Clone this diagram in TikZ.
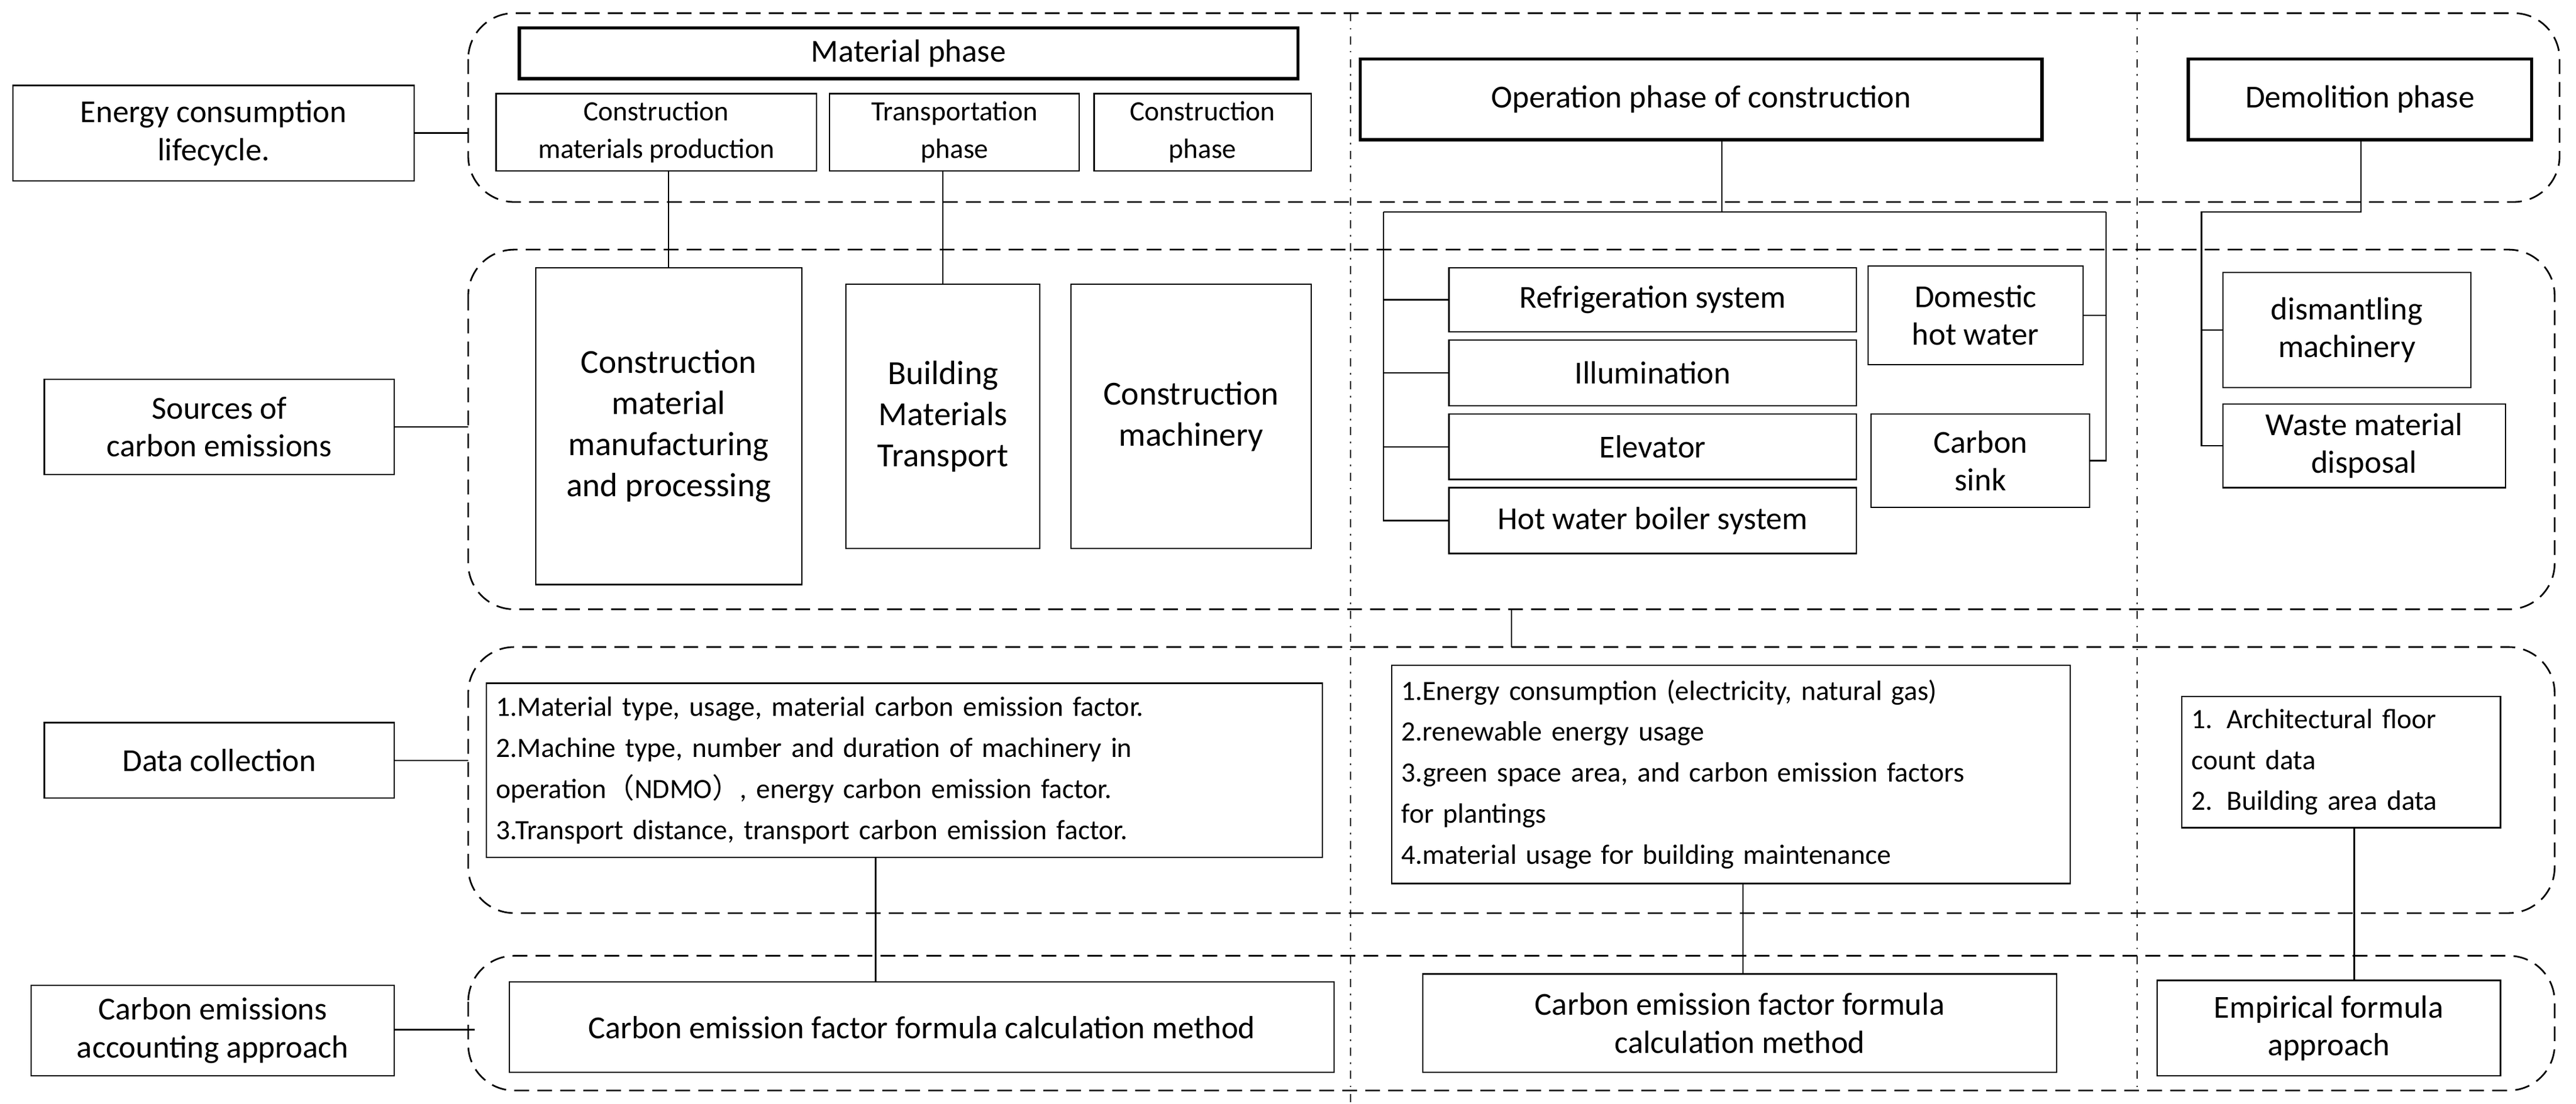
\documentclass[tikz,border=0pt]{standalone}
\usepackage{fontspec}
\setmainfont{Carlito}
\newfontfamily\cjk{Noto Sans CJK SC}
\begin{document}
\begin{tikzpicture}[x=1pt,y=-1pt,
 box/.style={draw,line width=0.8pt,align=center,inner sep=3pt,font=\fontsize{19.5}{23}\selectfont},
 thick box/.style={box,line width=2pt},
 small/.style={font=\fontsize{17}{23}\selectfont},
 big/.style={font=\fontsize{20.5}{25}\selectfont},
 txt/.style={draw,line width=0.8pt,align=left,inner sep=6pt,font=\fontsize{17}{25}\selectfont},
 grp/.style={draw,dash pattern=on 9pt off 5pt,line width=1pt,rounded corners=28pt},
 sep/.style={draw,dash pattern=on 5pt off 4pt on 1pt off 4pt,line width=0.7pt},
 ln/.style={draw,line width=0.8pt}]
\useasboundingbox (0,0) rectangle (1568,672);
% groups
\draw[grp] (285,8) rectangle (1558,123);
\draw[grp] (285,152) rectangle (1555,371);
\draw[grp] (285,394) rectangle (1555,556);
\draw[grp] (285,582) rectangle (1555,664);
\draw[sep] (822,8) -- (822,672);
\draw[sep] (1301,8) -- (1301,664);
\coordinate (g1) at (285,81); \coordinate (g2) at (285,260);
\coordinate (g3) at (285,463); \coordinate (g4) at (289,627);
\coordinate (g2b) at (920,371); \coordinate (g3t) at (920,394);
% left labels
\node[box,minimum width=244,minimum height=58] (e1) at (130,81) {Energy consumption\\lifecycle.};
\node[box,minimum width=213,minimum height=58] (src) at (133.5,260) {Sources of\\carbon emissions};
\node[box,minimum width=213,minimum height=46] (dc) at (133.5,463) {Data collection};
\node[box,minimum width=221,minimum height=55] (ca) at (129.5,627.5) {Carbon emissions\\accounting approach};
\draw[ln] (e1.east|-g1) -- (g1);
\draw[ln] (src.east|-g2) -- (g2);
\draw[ln] (dc.east|-g3) -- (g3);
\draw[ln] (ca.east|-g4) -- (g4);
\draw[ln] (g2b) -- (g3t);
% row 1
\node[thick box,minimum width=474,minimum height=31] (mp) at (553,32.5) {Material phase};
\node[box,small,minimum width=195,minimum height=47] (cmp) at (399.5,80.5) {Construction\\materials production};
\node[box,small,minimum width=152,minimum height=47] (tp) at (581,80.5) {Transportation\\phase};
\node[box,small,minimum width=132,minimum height=47] (cp) at (732,80.5) {Construction\\phase};
\node[thick box,minimum width=415,minimum height=49] (op) at (1035.5,60.5) {Operation phase of construction};
\node[thick box,minimum width=209,minimum height=49] (dp) at (1436.5,60.5) {Demolition phase};
% row 2
\node[box,big,minimum width=162,minimum height=193] (b1) at (407,259.5) {Construction\\material\\manufacturing\\and processing};
\node[box,big,minimum width=118,minimum height=161] (b2) at (574,253.5) {Building\\Materials\\Transport};
\node[box,big,minimum width=146,minimum height=161] (b3) at (725,253.5) {Construction\\machinery};
\draw[ln] (b1.north) -- (b1.north|-cmp.south);
\draw[ln] (b2.north) -- (b2.north|-tp.south);
\node[box,minimum width=248,minimum height=39] (r1) at (1006,182.5) {Refrigeration system};
\node[box,minimum width=248,minimum height=40] (r2) at (1006,227) {Illumination};
\node[box,minimum width=248,minimum height=40] (r3) at (1006,272) {Elevator};
\node[box,minimum width=248,minimum height=40] (r4) at (1006,317) {Hot water boiler system};
\node[box,minimum width=131,minimum height=60] (dhw) at (1202.5,192) {Domestic\\hot water};
\node[box,minimum width=133,minimum height=57] (cs) at (1205.5,280.5) {Carbon\\sink};
\coordinate (oh) at (1048,129);
\coordinate (oL) at (842,129); \coordinate (oR) at (1282,129);
\draw[ln] (op.south-|oh) -- (oh);
\draw[ln] (oL) -- (oR);
\draw[ln] (oL) -- (oL|-r4.west) -- (r4.west);
\foreach \n in {r1,r2,r3} \draw[ln] (oL|-\n.west) -- (\n.west);
\draw[ln] (oR) -- (oR|-cs.east) -- (cs.east);
\draw[ln] (oR|-dhw.east) -- (dhw.east);
\node[box,minimum width=151,minimum height=70] (dm) at (1428.5,201) {dismantling\\machinery};
\node[box,minimum width=172,minimum height=51] (wm) at (1439,271.5) {Waste material\\disposal};
\coordinate (dh) at (1437,129); \coordinate (dL) at (1340,129);
\draw[ln] (dp.south-|dh) -- (dh) -- (dL) -- (dL|-wm.west) -- (wm.west);
\draw[ln] (dL|-dm.west) -- (dm.west);
% row 3
\node[txt,text width=497,minimum height=106] (t1) at (550.5,469) {1.Material type, usage, material carbon emission factor.\\2.Machine type, number and duration of machinery in\\operation{\cjk （}NDMO{\cjk ）}, energy carbon emission factor.\\3.Transport distance, transport carbon emission factor.};
\node[txt,text width=401,minimum height=133] (t2) at (1053.5,471.5) {1.Energy consumption (electricity, natural gas)\\2.renewable energy usage\\3.green space area, and carbon emission factors\\for plantings\\4.material usage for building maintenance};
\node[txt,text width=182,minimum height=80] (t3) at (1425,464) {1. Architectural floor\\count data\\2. Building area data};
% row 4
\node[box,minimum width=502,minimum height=55] (f1) at (561,625.5) {Carbon emission factor formula calculation method};
\node[box,minimum width=386,minimum height=60] (f2) at (1059,623) {Carbon emission factor formula\\calculation method};
\node[box,minimum width=209,minimum height=58] (f3) at (1417.5,626) {Empirical formula\\approach};
\coordinate (c1) at (533,0); \coordinate (c2) at (1061,0); \coordinate (c3) at (1433,0);
\draw[ln] (c1|-t1.south) -- (c1|-f1.north);
\draw[ln] (c2|-t2.south) -- (c2|-f2.north);
\draw[ln] (c3|-t3.south) -- (c3|-f3.north);
\end{tikzpicture}
\end{document}
